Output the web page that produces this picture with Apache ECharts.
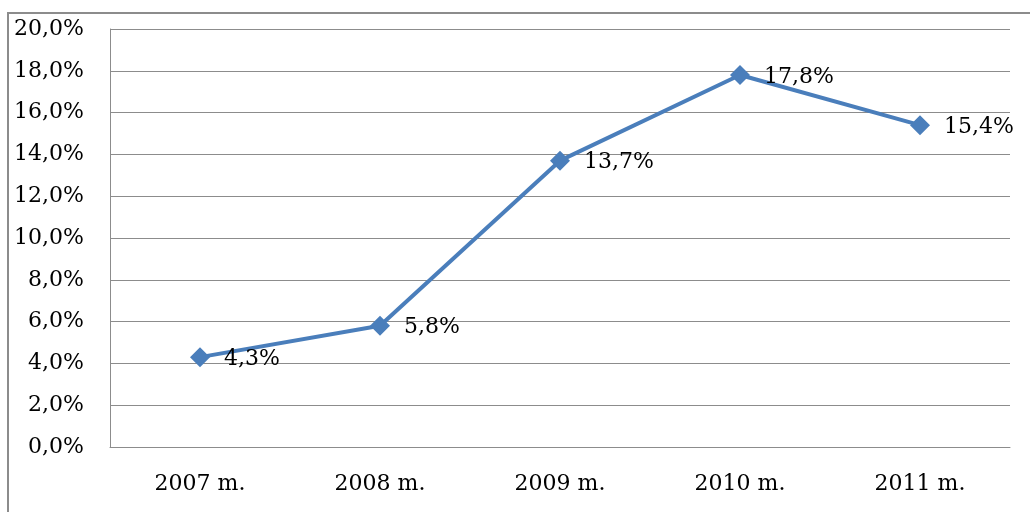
<!DOCTYPE html>
<html>
<head>
<meta charset="utf-8">
<script src="https://cdn.jsdelivr.net/npm/echarts@6/dist/echarts.min.js"></script>
<style>
  html, body { margin: 0; padding: 0; background: #fff; }
  #chart { width: 1030px; height: 512px; }
</style>
</head>
<body>
<div id="chart"></div>
<script>
// data
var years = ['2007 m.', '2008 m.', '2009 m.', '2010 m.', '2011 m.'];
var values = [4.3, 5.8, 13.7, 17.8, 15.4];

var fmt = function (v) { return v.toFixed(1).replace('.', ',') + '%'; };

var myChart = echarts.init(document.getElementById('chart'));
var option = {
  backgroundColor: '#fff',
  animation: false,
  graphic: [{
    type: 'rect',
    shape: { x: 8, y: 13, width: 1040, height: 520 },
    style: { fill: 'none', stroke: '#8c8c8c', lineWidth: 2 },
    silent: true
  }],
  grid: { left: 110, right: 20, top: 29, bottom: 65 },
  xAxis: {
    type: 'category',
    data: years,
    axisLine: { lineStyle: { color: '#8c8c8c', width: 1 } },
    axisTick: { show: false },
    axisLabel: {
      color: '#000', fontFamily: 'DejaVu Serif', fontSize: 22, margin: 26
    }
  },
  yAxis: {
    type: 'value',
    min: 0, max: 20, interval: 2,
    axisLine: { show: true, lineStyle: { color: '#8c8c8c', width: 1 } },
    axisTick: { show: false },
    splitLine: { lineStyle: { color: '#8c8c8c', width: 1 } },
    axisLabel: {
      color: '#000', fontFamily: 'DejaVu Serif', fontSize: 22, margin: 26,
      formatter: fmt
    }
  },
  series: [{
    type: 'line',
    data: values,
    symbol: 'diamond',
    symbolSize: 20,
    lineStyle: { color: '#4a7ebb', width: 4 },
    itemStyle: { color: '#4a7ebb' },
    label: {
      show: true,
      position: 'right',
      distance: 14,
      offset: [0, 2],
      color: '#000',
      fontFamily: 'DejaVu Serif',
      fontSize: 22,
      formatter: function (p) { return fmt(p.value); }
    }
  }]
};
option && myChart.setOption(option);
</script>
</body>
</html>
